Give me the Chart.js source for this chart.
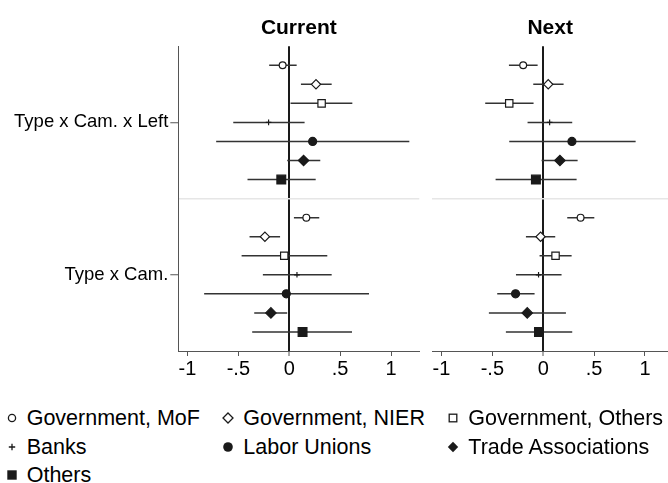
<!doctype html>
<html lang="en">
<head>
<meta charset="utf-8">
<title>Current vs Next coefficients</title>
<style>
  * { margin: 0; padding: 0; }
  body {
    width: 668px;
    height: 483px;
    position: relative;
    overflow: hidden;
    background: #fff;
    font-family: "Liberation Sans", Arial, sans-serif;
  }
  canvas { position: absolute; top: 0; }
  #currentChart { left: 0; }
  #nextChart { left: 420px; }
  .item {
    position: absolute;
    font-size: 21.5px;
    line-height: 26px;
    white-space: nowrap;
    color: #000;
  }
  .item svg { position: absolute; top: 6px; }
</style>
</head>
<body>
<canvas id="currentChart" width="425" height="381"></canvas>
<canvas id="nextChart" width="248" height="381"></canvas>
<div id="legend"></div>

<script src="https://cdn.jsdelivr.net/npm/chart.js/dist/chart.umd.min.js"></script>
<script>
// data
const categories = ['Type x Cam. x Left', 'Type x Cam.']
const seriesNames = ['Government, MoF', 'Government, NIER', 'Government, Others',
  'Banks', 'Labor Unions', 'Trade Associations', 'Others']
const xTicks = [-1, -0.5, 0, 0.5, 1]
const xTickLabels = ['-1', '-.5', '0', '.5', '1']

// one row per series: [Type x Cam. x Left, Type x Cam.]
const currentCoef = [[-0.065, 0.168], [0.263, -0.239], [0.318, -0.049], [-0.203, 0.076],
  [0.230, -0.029], [0.141, -0.180], [-0.078, 0.131]]
const currentLo = [[-0.197, 0.046], [0.115, -0.390], [0.013, -0.468], [-0.550, -0.259],
  [-0.718, -0.836], [-0.020, -0.344], [-0.410, -0.364]]
const currentHi = [[0.073, 0.295], [0.417, -0.090], [0.620, 0.374], [0.151, 0.417],
  [1.180, 0.784], [0.305, -0.020], [0.260, 0.617]]

const nextCoef = [[-0.197, 0.367], [0.049, -0.026], [-0.334, 0.121], [0.063, -0.046],
  [0.282, -0.272], [0.164, -0.157], [-0.072, -0.042]]
const nextLo = [[-0.337, 0.236], [-0.098, -0.170], [-0.570, -0.036], [-0.154, -0.268],
  [-0.334, -0.452], [-0.016, -0.534], [-0.468, -0.367]]
const nextHi = [[-0.055, 0.502], [0.200, 0.118], [-0.095, 0.279], [0.285, 0.180],
  [0.908, -0.085], [0.338, 0.223], [0.328, 0.285]]

// look
const ink = '#1a1a1a'
const axisGrey = '#555'
const family = '"Liberation Sans", Arial, sans-serif'
const catPos = [2, 1]                 // top group, bottom group
const step = 0.125                    // vertical gap between series inside a group
const markers = [
  { style: 'circle',  r: 3.4, fill: '#fff' },
  { style: 'rectRot', r: 4.6, fill: '#fff' },
  { style: 'rect',    r: 5.2, fill: '#fff' },
  { style: 'cross',   r: 2.8, fill: ink },
  { style: 'circle',  r: 4.0, fill: ink },
  { style: 'rectRot', r: 5.2, fill: ink },
  { style: 'rect',    r: 6.2, fill: ink },
]

function seriesY(s, k) {
  return catPos[k] + (3 - s) * step
}

function buildDatasets(coef, lo, hi) {
  const sets = []
  // markers first so they sit on top of the interval lines
  seriesNames.forEach((name, s) => {
    sets.push({
      type: 'scatter',
      label: name,
      data: categories.map((c, k) => ({ x: coef[s][k], y: seriesY(s, k) })),
      pointStyle: markers[s].style,
      pointRadius: markers[s].r,
      backgroundColor: markers[s].fill,
      borderColor: ink,
      pointBorderWidth: 1.2,
      order: 0,
    })
  })
  seriesNames.forEach((name, s) => {
    const pts = []
    categories.forEach((c, k) => {
      const y = seriesY(s, k)
      pts.push({ x: lo[s][k], y: y }, { x: hi[s][k], y: y }, { x: null, y: null })
    })
    sets.push({
      type: 'line',
      label: name + ' CI',
      data: pts,
      spanGaps: false,
      borderColor: '#333',
      borderWidth: 1.5,
      pointRadius: 0,
      fill: false,
      order: 1,
    })
  })
  return sets
}

function makeChart(id, title, coef, lo, hi, withYAxis, xMax, padLeft, padRight) {
  return new Chart(document.getElementById(id), {
    type: 'scatter',
    data: { datasets: buildDatasets(coef, lo, hi) },
    options: {
      responsive: false,
      animation: false,
      events: [],
      layout: { autoPadding: false, padding: { left: padLeft, right: padRight, top: 0, bottom: 0 } },
      plugins: {
        legend: { display: false },
        tooltip: { enabled: false },
        title: {
          display: true,
          text: title,
          fullSize: false,
          color: '#000',
          font: { family: family, size: 21, weight: 'bold' },
          padding: { top: 16, bottom: 5 },
        },
      },
      scales: {
        x: {
          type: 'linear',
          min: -1.09,
          max: xMax,
          afterBuildTicks: (s) => { s.ticks = xTicks.map(v => ({ value: v })) },
          afterFit: (s) => { s.height = 30 },
          ticks: {
            callback: (v) => xTickLabels[xTicks.indexOf(v)],
            font: { family: family, size: 20 },
            color: '#000',
            padding: 1,
            maxRotation: 0,
            autoSkip: false,
          },
          grid: {
            drawOnChartArea: true,
            color: (c) => (c.tick && c.tick.value === 0 ? ink : 'rgba(0,0,0,0)'),
            lineWidth: (c) => (c.tick && c.tick.value === 0 ? 2 : 1),
            tickColor: axisGrey,
            tickWidth: 1,
            tickLength: 5,
          },
          border: { display: true, color: axisGrey, width: 1 },
        },
        y: {
          type: 'linear',
          min: 0.5,
          max: 2.5,
          afterBuildTicks: (s) => { s.ticks = [1, 1.5, 2].map(v => ({ value: v })) },
          afterFit: (s) => { s.width = withYAxis ? 178.3 : 0 },
          ticks: {
            display: withYAxis,
            callback: (v) => (v === 2 ? categories[0] : v === 1 ? categories[1] : ''),
            font: { family: family, size: 18.5 },
            color: '#000',
            padding: 2,
          },
          grid: {
            drawOnChartArea: true,
            drawTicks: withYAxis,
            color: (c) => (c.tick && c.tick.value === 1.5 ? '#e6e6e6' : 'rgba(0,0,0,0)'),
            tickColor: (c) => (c.tick && c.tick.value === 1.5 ? 'rgba(0,0,0,0)' : axisGrey),
            tickLength: 8,
            lineWidth: 1.5,
            tickWidth: 1,
          },
          border: { display: withYAxis, color: axisGrey, width: 1 },
        },
      },
    },
  })
}

const currentChart = makeChart('currentChart', 'Current', currentCoef, currentLo, currentHi, true, 1.278, 0, 5.7)
const nextChart = makeChart('nextChart', 'Next', nextCoef, nextLo, nextHi, false, 1.226, 12.3, 0)

// legend, three columns like the original
function keySvg(s) {
  const sw = 1.3
  let shape = ''
  if (s === 0) shape = `<circle cx="7" cy="7" r="3.6" fill="#fff" stroke="${ink}" stroke-width="${sw}"/>`
  if (s === 1) shape = `<polygon points="7,2 12,7 7,12 2,7" fill="#fff" stroke="${ink}" stroke-width="${sw}"/>`
  if (s === 2) shape = `<rect x="3.2" y="3.2" width="7.6" height="7.6" fill="#fff" stroke="${ink}" stroke-width="${sw}"/>`
  if (s === 3) shape = `<path d="M7 3.8V10.2M3.8 7H10.2" stroke="${ink}" stroke-width="${sw}"/>`
  if (s === 4) shape = `<circle cx="7" cy="7" r="4.8" fill="${ink}"/>`
  if (s === 5) shape = `<polygon points="7,1.8 12.2,7 7,12.2 1.8,7" fill="${ink}"/>`
  if (s === 6) shape = `<rect x="2.3" y="2.3" width="9.4" height="9.4" fill="${ink}"/>`
  return `<svg width="14" height="14" style="left:-22px">${shape}</svg>`
}

const keyX = [11.7, 228.3, 453.3]
const rowY = [417.7, 446.7, 475]
const legend = document.getElementById('legend')
seriesNames.forEach((name, s) => {
  const col = s % 3
  const row = Math.floor(s / 3)
  const div = document.createElement('div')
  div.className = 'item'
  div.style.left = (keyX[col] + 15) + 'px'
  div.style.top = (rowY[row] - 13) + 'px'
  div.innerHTML = keySvg(s) + '<span>' + name + '</span>'
  legend.appendChild(div)
})
</script>
</body>
</html>
